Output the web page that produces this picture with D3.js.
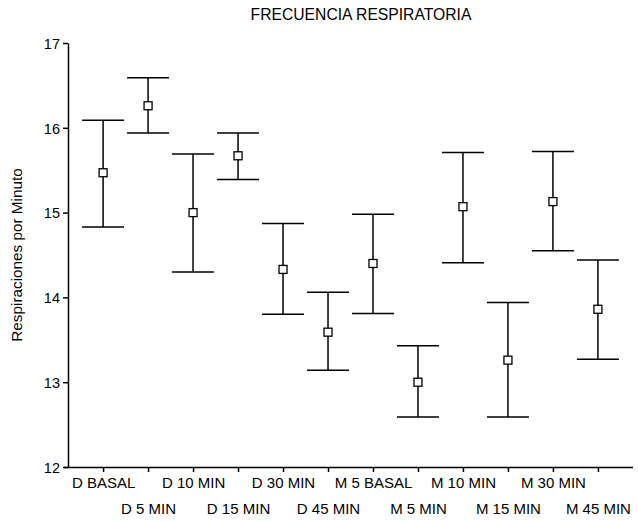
<!DOCTYPE html>
<html>
<head>
<meta charset="utf-8">
<script src="https://cdn.jsdelivr.net/npm/d3@7"></script>
<style>
  body { margin: 0; background: #fff; }
  text { font-family: "Liberation Sans", Arial, sans-serif; fill: #000; }
</style>
</head>
<body>
<div id="chart"></div>
<script>
// categories and values
const categories = ["D BASAL", "D 5 MIN", "D 10 MIN", "D 15 MIN", "D 30 MIN", "D 45 MIN",
  "M 5 BASAL", "M 5 MIN", "M 10 MIN", "M 15 MIN", "M 30 MIN", "M 45 MIN"];
const means = [15.47, 16.26, 15.00, 15.67, 14.33, 13.59, 14.40, 13.00, 15.07, 13.26, 15.13, 13.86];
const upper = [16.09, 16.59, 15.69, 15.94, 14.87, 14.06, 14.98, 13.43, 15.71, 13.94, 15.72, 14.44];
const lower = [14.83, 15.94, 14.30, 15.39, 13.80, 13.14, 13.81, 12.59, 14.41, 12.59, 14.55, 13.27];
const yTicks = [12, 13, 14, 15, 16, 17];

const data = categories.map((c, i) => ({ c, i, m: means[i], hi: upper[i], lo: lower[i] }));

const W = 638, H = 521;
const margin = { top: 43, right: 5, bottom: 54, left: 68 };
const width = W - margin.left - margin.right,
  height = H - margin.top - margin.bottom;

const svg = d3.select("#chart").append("svg")
  .attr("width", W)
  .attr("height", H);

const g = svg.append("g")
  .attr("transform", `translate(${margin.left},${margin.top})`);

const x = d3.scalePoint().domain(categories).range([0, width]).padding(0.78);
const y = d3.scaleLinear().domain([12, 17]).range([height, 0]);

// y axis
const gy = g.append("g").call(d3.axisLeft(y).tickValues(yTicks).tickFormat(d3.format("d"))
  .tickSize(5).tickSizeOuter(0).tickPadding(3));
gy.select(".domain").attr("stroke-width", 1.5);
gy.selectAll(".tick line").attr("stroke-width", 1.5);
gy.selectAll("text").style("font-size", "14.5px").attr("dy", "0.36em");

// x axis
const gx = g.append("g")
  .attr("transform", `translate(0,${height})`)
  .call(d3.axisBottom(x).tickSize(5).tickSizeOuter(0).tickPadding(5));
gx.select(".domain").attr("d", `M-4,0.5H${width}`).attr("stroke-width", 1.5);
gx.selectAll(".tick line").attr("stroke-width", 1.5);
gx.selectAll("text")
  .style("font-size", "15px")
  .attr("y", (d, i) => i % 2 ? 36 : 10)
  .attr("dy", "0.71em");

// error bars
const cap = 21;
const bars = g.selectAll("g.bar").data(data).join("g").attr("class", "bar");
bars.append("line")
  .attr("x1", d => x(d.c)).attr("x2", d => x(d.c))
  .attr("y1", d => y(d.hi)).attr("y2", d => y(d.lo))
  .attr("stroke", "#000").attr("stroke-width", 1.5);
bars.append("line")
  .attr("x1", d => x(d.c) - cap).attr("x2", d => x(d.c) + cap)
  .attr("y1", d => y(d.hi)).attr("y2", d => y(d.hi))
  .attr("stroke", "#000").attr("stroke-width", 1.5);
bars.append("line")
  .attr("x1", d => x(d.c) - cap).attr("x2", d => x(d.c) + cap)
  .attr("y1", d => y(d.lo)).attr("y2", d => y(d.lo))
  .attr("stroke", "#000").attr("stroke-width", 1.5);
bars.append("rect")
  .attr("x", d => x(d.c) - 4).attr("y", d => y(d.m) - 4)
  .attr("width", 8).attr("height", 8)
  .attr("fill", "#fff").attr("stroke", "#000").attr("stroke-width", 1.3);

// title
svg.append("text")
  .attr("x", 361).attr("y", 20)
  .attr("text-anchor", "middle")
  .style("font-size", "15.7px")
  .text("FRECUENCIA RESPIRATORIA");

// y label
svg.append("text")
  .attr("transform", `translate(22,${margin.top + height / 2}) rotate(-90)`)
  .attr("text-anchor", "middle")
  .style("font-size", "15.3px")
  .text("Respiraciones por Minuto");
</script>
</body>
</html>
